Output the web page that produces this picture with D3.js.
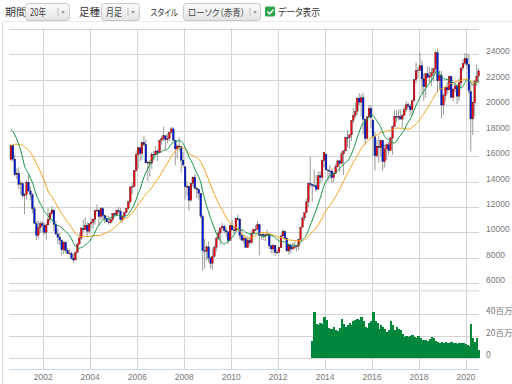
<!DOCTYPE html>
<html><head><meta charset="utf-8">
<script src="https://cdn.jsdelivr.net/npm/d3@7"></script>
<style>body{margin:0;background:#fff;overflow:hidden}svg{display:block}
.tb text{font-feature-settings:"palt" 1;}</style>
</head><body>
<svg id="c" width="512" height="384"></svg>
<script>
// ---- data (Nikkei monthly, Aug 2000 .. Jul 2020) ----
const startMonth = [2000, 7]; // Aug 2000 (0-based month)
const opens = [
15727,16862,15750,14540,14650,
13790,13850,12880,13000,13940,13260,12970,11860,10710,9780,10370,10700,
10540,10000,10590,11030,11490,11760,10620,9880,9620,9380,8640,9220,
8580,8340,8360,7970,7830,8420,9080,9560,10340,10220,10560,10100,
10680,10780,11040,11720,11760,11240,11860,11330,11080,10820,10770,11010,
11490,11390,11740,11670,11010,11280,11580,11900,12410,13570,13610,14870,
16110,16650,16200,17060,16900,15460,15500,15450,16140,16130,16400,16270,
17230,17380,17600,17290,17400,17880,18140,17250,16570,16790,16740,15680,
15160,13590,13600,12530,13850,14340,13480,13380,13070,11260,8580,8510,
8860,7990,7570,8110,8830,9520,9960,10360,10490,10130,10040,9350,
10550,10200,10130,11090,11060,9770,9380,9540,8820,9370,9200,9940,
10230,10240,10620,9760,9850,9690,9820,9830,8960,8700,8990,8430,
8450,8800,9720,10080,9520,8540,9010,8700,8840,8870,8930,9450,
10400,11140,11560,12400,13860,13780,13680,13670,13390,14460,14330,15660,
16150,14910,14840,14830,14300,14630,15160,15620,15420,16170,16410,17460,
17450,17670,18800,19200,19520,20560,20240,20580,18890,17390,19080,19750,
18820,17520,16020,16760,16660,17230,15570,16570,16890,16450,17420,18300,
19110,19040,19120,18910,19200,19650,20030,19920,19640,20360,22010,22720,
22760,23100,22070,21450,22470,22200,22300,22550,22860,24120,21920,22350,
20015,20770,21380,21200,22260,20600,21280,21520,20700,21750,22930,23290,
23660,23200,21080,18920,20190,21880,22290];
const highs = [
16911,16900,16150,15050,15100,
14100,14000,13100,14100,14530,13600,13100,12100,10900,10900,10900,10900,
10800,10700,11900,11600,12080,11800,10900,10300,9950,9450,9300,9300,
8800,8700,8480,8300,8500,9180,10000,10400,11000,11200,10800,10700,
11100,11100,11800,12200,11800,12000,11990,11400,11300,11300,11100,11500,
11550,11750,12000,11900,11300,11600,11900,12500,13600,13900,14900,16400,
16700,16700,17100,17600,17300,15600,15700,16300,16400,16800,16500,17300,
17600,18300,17600,17800,17900,18300,18260,17300,16900,17500,16800,16300,
15160,14000,13700,13900,14400,14600,13600,13400,13100,11400,9500,9000,
9300,8100,8700,9000,9700,10170,10400,10770,10600,10350,10100,10640,
10980,10400,11100,11400,11100,10240,9800,9700,9700,9600,10150,10300,
10600,10900,10700,9800,10000,9900,10200,9900,9000,9100,9000,8700,
8900,9800,10250,10150,9600,9100,9100,9200,9300,9000,9500,10450,
11200,11500,12650,13900,15940,13800,14950,14500,14800,14800,15750,16320,
16170,15000,15300,15000,14800,15400,15700,15700,16370,16400,17500,18030,
17550,18800,19780,20200,20600,20950,20850,20950,18900,19150,20000,20000,
18950,17900,17300,17600,17250,17300,16900,17000,17100,17500,18400,19600,
19600,19670,19670,19300,19900,20300,20200,20100,20400,22050,23380,23000,
24130,23500,22500,22500,23050,23000,22900,22900,24300,24450,22700,22700,
20900,21500,21860,22360,22300,21300,21800,21600,22100,22980,23600,24100,
24100,24000,21700,20200,22000,23180,22900];
const lows = [
15626,15550,14400,14200,13400,
13000,12700,11430,12600,13200,12500,11500,10700,9380,9500,9950,10000,
9800,9420,10550,10750,11350,10100,9800,9080,8990,8200,8300,8400,
8300,8300,7860,7600,7850,8400,9050,9400,10050,10200,9600,9900,
10300,10300,10600,11600,10500,11000,11000,10700,10800,10600,10700,10800,
11200,11300,11500,10800,10800,11100,11500,11800,12300,13000,13600,14800,
15000,15600,15700,16800,15500,14000,14400,15000,15600,16100,15600,16200,
16900,17200,16500,17000,17200,17800,17200,15270,15800,16400,14700,15100,
12570,12900,11700,12400,13600,13400,12700,12600,11100,6990,7160,7800,
7670,7160,7050,8050,8500,9400,9050,10200,9900,9600,9080,9350,
10200,9860,10100,10900,9450,9380,9090,8800,8800,9030,9100,9900,
10100,10200,8200,9400,9400,9300,9800,8700,8350,8350,8160,8300,
8340,8800,9700,9400,8500,8240,8370,8600,8700,8500,8600,9400,
10400,10900,11550,12000,13500,12400,13600,13200,13400,13850,14000,15100,
14900,13995,14200,13880,13960,14600,15100,14750,15400,14530,16400,16670,
16590,17200,18600,19000,19250,19980,19120,17700,16900,17300,19000,18200,
16000,14860,15900,15500,15970,14860,15100,15700,16100,16400,16100,18300,
18650,18800,18900,18220,19200,19500,19800,19200,19200,20300,21700,22100,
22700,20950,20350,20600,22100,21800,21500,21850,22500,20970,21240,18950,
19240,20300,20900,21200,20700,20300,21000,20100,20300,21300,22700,23100,
22900,20900,16360,17650,19100,21500,21800];
const closes = [
16861,15747,14540,14649,13786,
13844,12884,12999,13934,13262,12969,11861,10714,9775,10366,10697,10543,
9998,10588,11025,11493,11764,10622,9877,9619,9383,8640,9216,8579,
8340,8363,7973,7831,8425,9083,9563,10343,10219,10560,10101,10677,
10784,11042,11715,11762,11236,11858,11326,11082,10824,10771,11013,11489,
11388,11741,11669,11009,11277,11584,11900,12414,13574,13607,14872,16111,
16650,16205,17060,16906,15467,15505,15457,16141,16128,16399,16274,17226,
17383,17604,17288,17400,17876,18138,17249,16569,16786,16737,15681,15308,
13592,13603,12526,13850,14339,13481,13377,13073,11260,8577,8512,8860,
7994,7568,8110,8828,9523,9958,10357,10493,10133,10035,9346,10546,
10198,10126,11090,11057,9769,9383,9537,8824,9369,9202,9937,10229,
10238,10624,9755,9850,9694,9816,9833,8955,8700,8988,8435,8455,
8803,9723,10084,9521,8543,9007,8695,8840,8870,8928,9446,10395,
11139,11559,12398,13861,13775,13677,13668,13389,14456,14328,15662,16291,
14915,14841,14828,14304,14632,15162,15621,15425,16174,16414,17460,17451,
17674,18798,19207,19520,20563,20236,20585,18890,17388,19083,19747,19034,
17518,16027,16759,16666,17235,15576,16569,16887,16450,17425,18308,19114,
19041,19119,18909,19197,19651,20033,19925,19646,20356,22012,22725,22765,
23098,22068,21454,22468,22202,22305,22554,22865,24120,21920,22351,20015,
20773,21385,21206,22259,20601,21276,21522,20704,21756,22927,23294,23657,
23205,21143,18917,20194,21878,22288,22700];
// closes before the window (Aug 1998 .. Jul 2000) used for the moving averages
const priorCloses = [14108,13406,13564,14883,13842,
14499,14368,15837,16701,16112,17530,17862,17437,17605,17942,18558,18934,
19540,19960,20337,17974,16332,17411,15727];
// volume (millions), Jun 2013 .. Jul 2020
const volStart = [2013, 5];
const volumes = [15,42,31,30,32,31,37,
34,27,26,26,28,25,24,27,35,31,28,30,
32,30,33,34,35,34,37,33,28,27,32,33,
42,33,32,26,30,28,26,23,25,33,30,25,
28,26,25,22,19,20,19,20,21,18.5,17.5,20,
17.5,16,16,16,15.4,16.6,19,17.5,15.4,14.5,13.5,14.5,
13.8,14.5,13.5,13,14.5,13.8,13.5,12.3,13,13.5,13,12.5,
12,10.5,31,18,14,18,7];
const priceTicks = [6000,8000,10000,12000,14000,16000,18000,20000,22000,24000,26000];
const volTicks = [0,20,40];
const volTickLabels = ["0","20百万","40百万"];
const yearTicks = [2002,2004,2006,2008,2010,2012,2014,2016,2018,2020];
const maShort = 12, maLong = 24;

// ---- drawing ----
const svg = d3.select("#c");
const jp = "'Noto Sans CJK JP','Noto Sans',sans-serif";
const ax = "'Liberation Sans',Arial,sans-serif";

const months = d3.range(closes.length).map(i => new Date(startMonth[0], startMonth[1] + i, 1));
const x = d3.scaleTime().domain([new Date(2002,0,1), new Date(2020,0,1)]).range([43.3, 466]);
const y = d3.scaleLinear().domain([6000, 26000]).range([283.3, 28.9]);
const yv = d3.scaleLinear().domain([0, 60]).range([357.7, 291.7]);
const mid = d => new Date(d.getFullYear(), d.getMonth(), 15);
const L = 9, R = 479;

// toolbar
const defs = svg.append("defs");
const g1 = defs.append("linearGradient").attr("id","btn").attr("x1",0).attr("y1",0).attr("x2",0).attr("y2",1);
g1.append("stop").attr("offset","0").attr("stop-color","#fbfbfb");
g1.append("stop").attr("offset","1").attr("stop-color","#e4e4e4");
const tb = svg.append("g").attr("class","tb").attr("font-family", jp).attr("font-size", 10.5).attr("fill", "#333");
function label(t, x0, w, fs){
  tb.append("text").attr("x",x0).attr("y",16).attr("font-size",fs||10.5)
    .attr("textLength",w).attr("lengthAdjust","spacingAndGlyphs").text(t);
}
function dropdown(x0, x1, t, w, sepX, fs){
  tb.append("rect").attr("x",x0+0.5).attr("y",3.5).attr("width",x1-x0).attr("height",17).attr("rx",3)
    .attr("fill","url(#btn)").attr("stroke","#c8c8c8");
  tb.append("text").attr("x",x0+5).attr("y",16).attr("font-size",fs||10).attr("fill","#444")
    .attr("textLength",w).attr("lengthAdjust","spacingAndGlyphs").text(t);
  tb.append("line").attr("x1",sepX).attr("x2",sepX).attr("y1",8).attr("y2",16).attr("stroke","#bbb");
  tb.append("path").attr("d",`M${sepX+3},11 l4,0 l-2,3 z`).attr("fill","#999");
}
label("期間", 5, 22);
dropdown(25, 69, "20年", 16, 58);
label("足種", 79, 21);
dropdown(101, 139, "月足", 16, 128);
label("スタイル", 150.5, 27.5, 9.5);
dropdown(183, 260, "ローソク（赤青）", 57, 250, 9.5);
tb.append("rect").attr("x",265).attr("y",6.5).attr("width",10).attr("height",10).attr("rx",1.5).attr("fill","#2aa34a");
tb.append("path").attr("d","M267.3,11.5 l2.3,2.3 l4,-4.3").attr("stroke","#fff").attr("stroke-width",1.6).attr("fill","none");
label("データ表示", 278, 42, 10);

// frame
svg.append("line").attr("x1",2.5).attr("x2",2.5).attr("y1",22).attr("y2",384).attr("stroke","#dcdcdc");
svg.append("line").attr("x1",2.5).attr("x2",512).attr("y1",21.5).attr("y2",21.5).attr("stroke","#ececec");

// grid
const grid = svg.append("g");
yearTicks.forEach(yr => {
  const xx = Math.round(x(new Date(yr,0,1))) + 0.5;
  grid.append("line").attr("x1",xx).attr("x2",xx).attr("y1",28.5).attr("y2",369).attr("stroke","#d4d4d4");
});
priceTicks.forEach(v => {
  const yy = Math.round(y(v)) + 0.5;
  grid.append("line").attr("x1",L).attr("x2",R).attr("y1",yy).attr("y2",yy).attr("stroke","#d4d4d4");
});
grid.append("rect").attr("x",L).attr("y",289.7).attr("width",R-L).attr("height",2).attr("fill","#e6e6e6");
volTicks.forEach(v => {
  const yy = Math.round(yv(v)) + 0.5;
  grid.append("line").attr("x1",L).attr("x2",R).attr("y1",yy).attr("y2",yy).attr("stroke","#d4d4d4");
});
grid.append("line").attr("x1",L).attr("x2",R).attr("y1",369.5).attr("y2",369.5).attr("stroke","#c9dbe9");

// axis labels
const al = svg.append("g").attr("font-family", ax).attr("font-size", 8.5).attr("fill", "#777");
priceTicks.filter(v => v < 26000).forEach(v => {
  al.append("text").attr("x",486).attr("y",y(v)).text(v);
});
volTicks.forEach((v,i) => {
  al.append("text").attr("x",486).attr("y",yv(v)).attr("font-family",jp).text(volTickLabels[i]);
});
yearTicks.forEach(yr => {
  al.append("text").attr("x",x(new Date(yr,0,1))).attr("y",380).attr("text-anchor","middle").text(yr);
});

// volume bars
const vg = svg.append("g").attr("shape-rendering","crispEdges");
volumes.forEach((v,i) => {
  const d0 = new Date(volStart[0], volStart[1]+i, 1), d1 = new Date(volStart[0], volStart[1]+i+1, 1);
  vg.append("rect").attr("x",x(d0)).attr("width",x(d1)-x(d0)+0.6)
    .attr("y",yv(v)).attr("height",yv(0)-yv(v)).attr("fill","#00873c");
});

// candles
const cg = svg.append("g");
months.forEach((d,i) => {
  const cx = x(mid(d));
  cg.append("line").attr("x1",cx).attr("x2",cx).attr("y1",y(highs[i])).attr("y2",y(lows[i]))
    .attr("stroke","#9a9a9a").attr("stroke-width",1);
});
months.forEach((d,i) => {
  const cx = x(mid(d));
  const o = opens[i], c = closes[i];
  const top = y(Math.max(o,c)), h = Math.max(0.8, Math.abs(y(o)-y(c)));
  cg.append("rect").attr("x",cx-0.9).attr("width",1.8).attr("y",top).attr("height",h)
    .attr("fill", c >= o ? "#f00010" : "#0018e0").attr("stroke","#222").attr("stroke-width",0.3);
});

// moving averages
const all = priorCloses.concat(closes);
function ma(n){ return closes.map((c,i) => d3.mean(all.slice(i+priorCloses.length-n+1, i+priorCloses.length+1))); }
const line = d3.line().x((v,i) => x(mid(months[i]))).y(v => y(v)).curve(d3.curveMonotoneX);
svg.append("path").attr("d", line(ma(maLong))).attr("fill","none").attr("stroke","#f2a31b").attr("stroke-width",1);
svg.append("path").attr("d", line(ma(maShort))).attr("fill","none").attr("stroke","#179548").attr("stroke-width",1);
</script>
</body></html>
